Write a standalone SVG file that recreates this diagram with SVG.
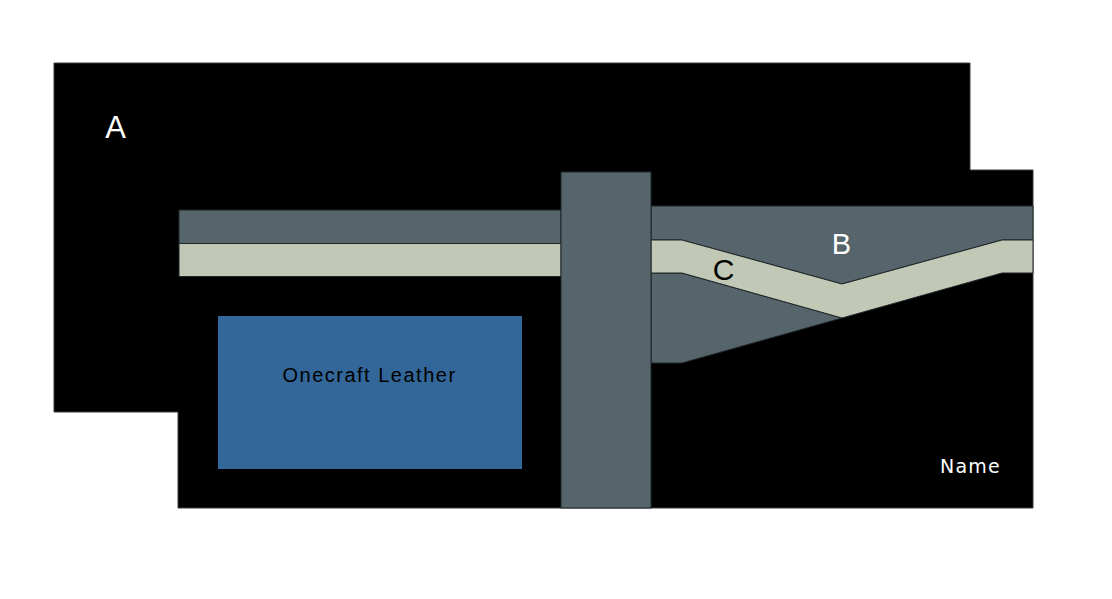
<svg xmlns="http://www.w3.org/2000/svg" width="1112" height="599" viewBox="0 0 1112 599">
<style>
.gray{fill:#56646b;stroke:#1f2629;stroke-width:1}
.light{fill:#c1c8b5;stroke:#1f2629;stroke-width:1}
.lbl{font-family:"Liberation Sans",Arial,sans-serif}
</style>
<rect width="1112" height="599" fill="#ffffff"/>
<g id="base">
<polygon points="54,63 970,63 970,170 1033,170 1033,508 178,508 178,412 54,412" fill="#000000" stroke="#3a3a3a" stroke-width="1"/>
</g>
<g id="left-band">
<rect class="gray" x="179" y="210" width="382" height="33.5"/>
<rect class="light" x="179" y="243.5" width="382" height="33"/>
</g>
<g id="right-structure">
<polygon class="gray" points="651,206 1033,206 1033,240 1002,240 842,284 682,240 651,240"/>
<polygon class="gray" points="651,273 682,273 842,318 682,363 651,363"/>
<polygon class="light" points="651,240 682,240 842,284 1002,240 1033,240 1033,273 1002,273 842,318 682,273 651,273"/>
</g>
<g id="pillar">
<rect class="gray" x="561" y="172" width="90" height="336"/>
</g>
<g id="onecraft">
<rect x="218" y="316" width="304" height="153" fill="#336699"/>
<text class="lbl" x="369.5" y="382" font-size="20" letter-spacing="1.5" text-anchor="middle" fill="#000000">Onecraft Leather</text>
</g>
<g id="labels">
<text class="lbl" x="115.5" y="138" font-size="31" text-anchor="middle" fill="#ffffff">A</text>
<text class="lbl" x="841.5" y="254" font-size="29" text-anchor="middle" fill="#ffffff">B</text>
<text class="lbl" x="723.5" y="280" font-size="30" text-anchor="middle" fill="#000000">C</text>
<text x="940" y="473" font-family="DejaVu Sans,sans-serif" font-size="19" letter-spacing="1.2" fill="#ffffff">Name</text>
</g>
</svg>
